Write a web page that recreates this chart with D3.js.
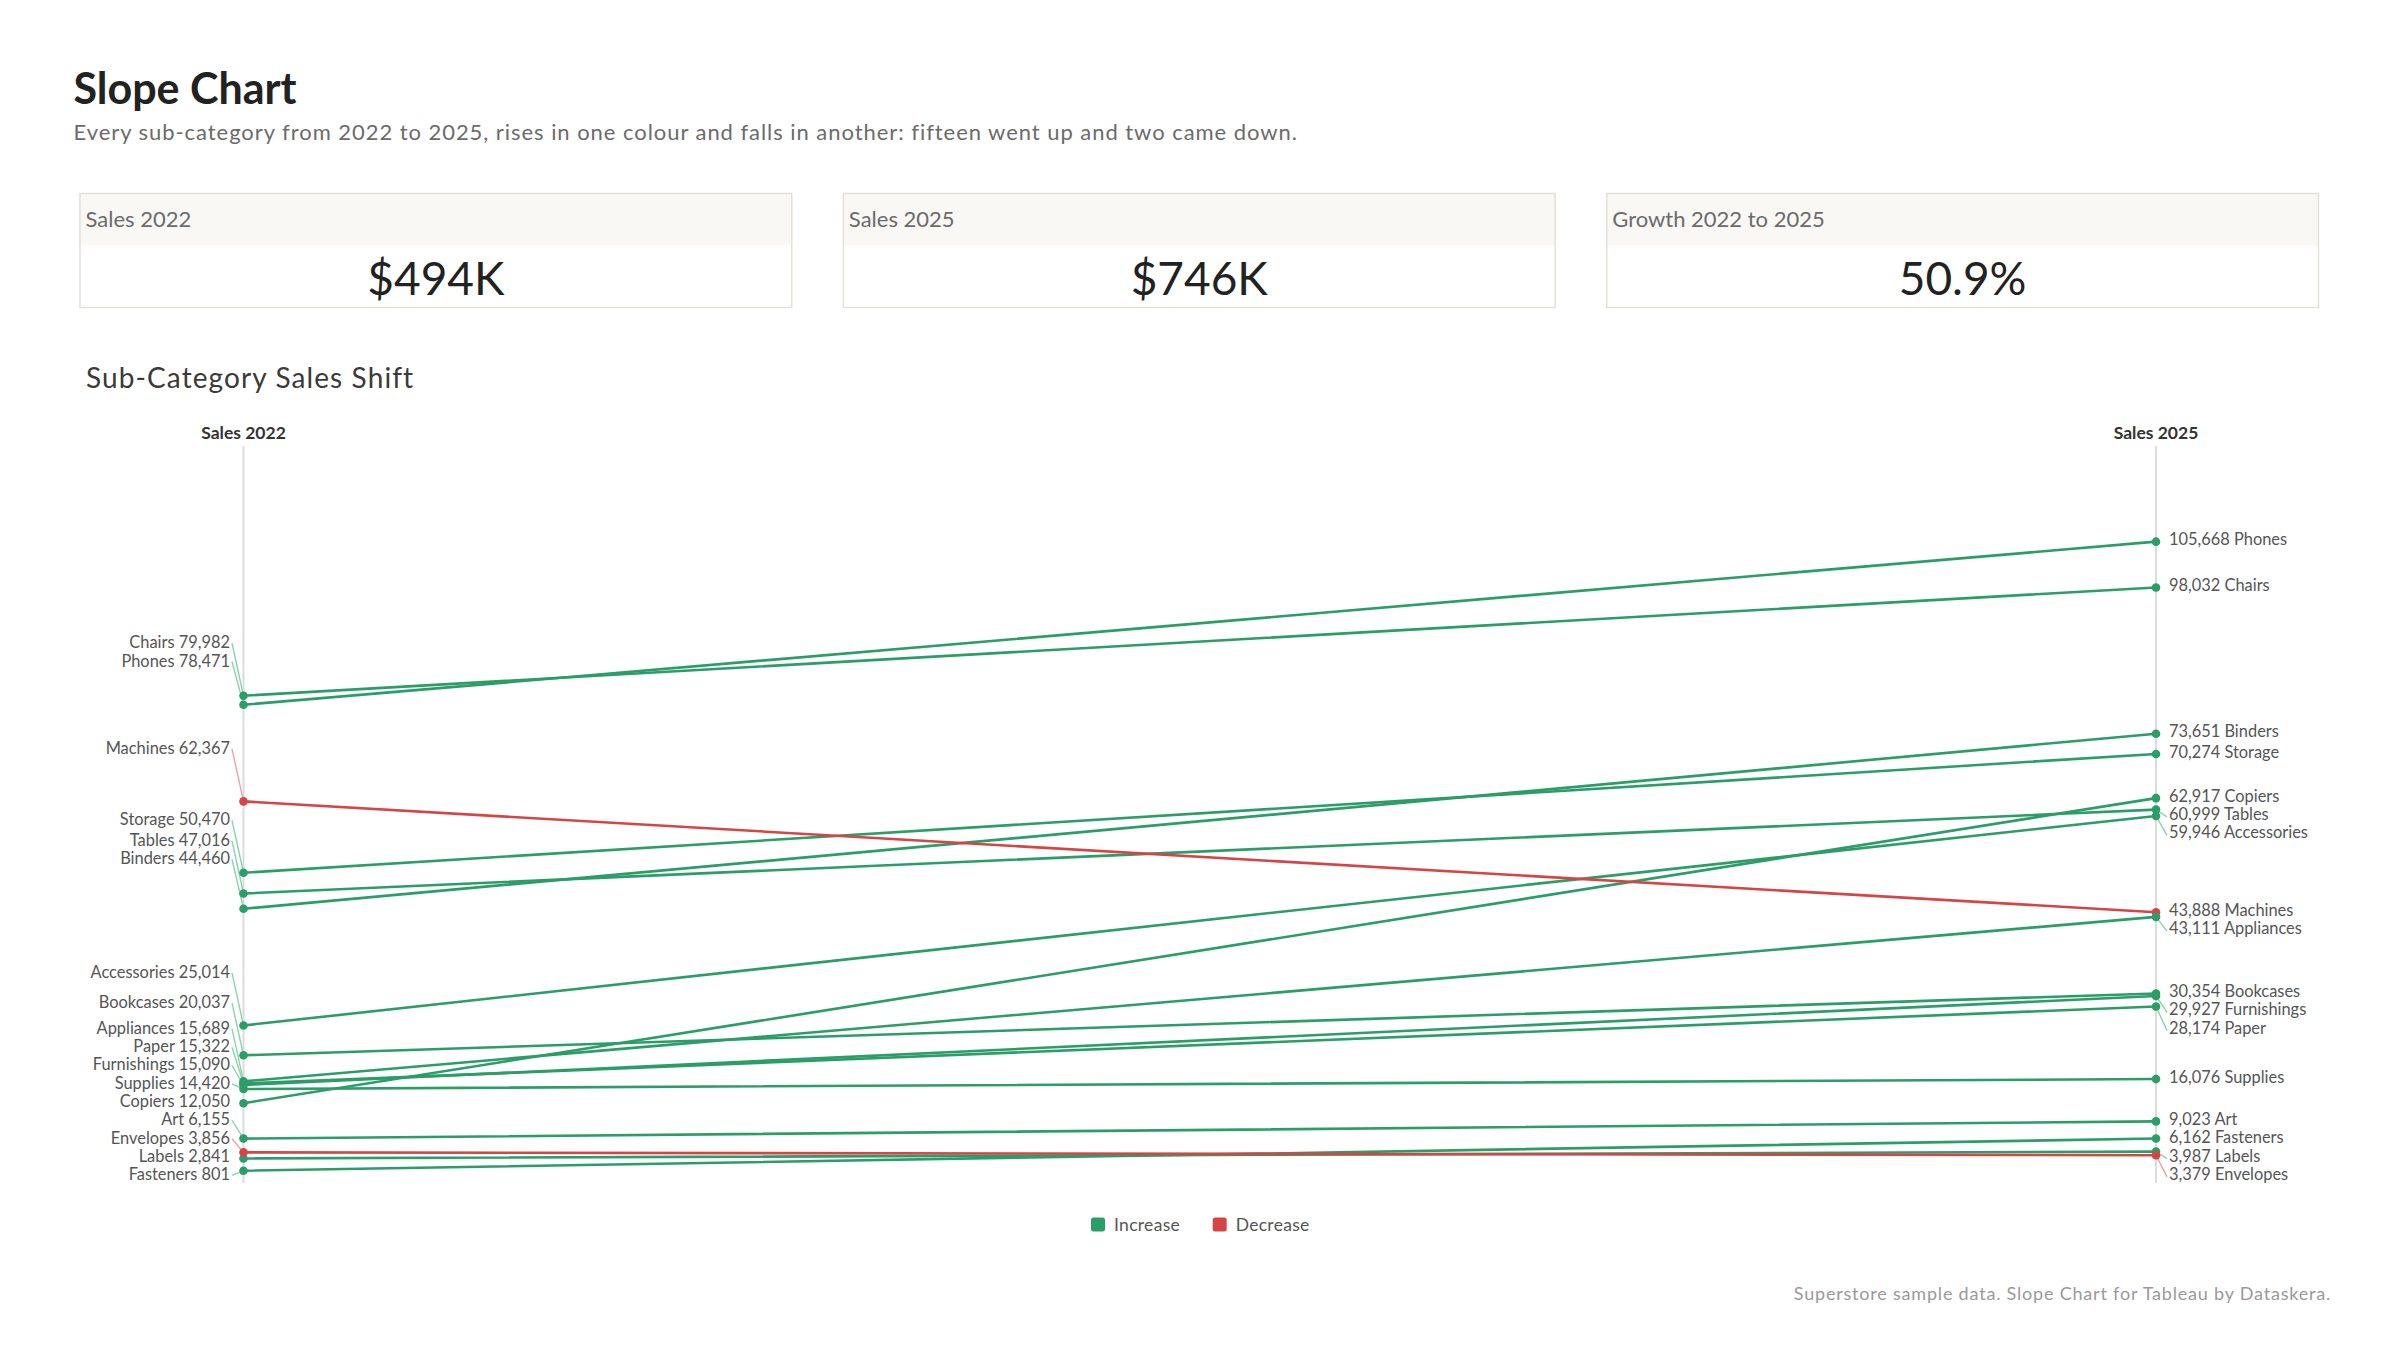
<!DOCTYPE html>
<html>
<head>
<meta charset="utf-8">
<script src="https://cdn.jsdelivr.net/npm/d3@7"></script>
<style>
  html, body { margin: 0; padding: 0; background: #ffffff; }
  svg { display: block; font-family: Lato, "Open Sans", sans-serif; }
</style>
</head>
<body>
<svg id="chart" width="2400" height="1350"></svg>
<script>
// ---------------- DATA ----------------
const subCategories = ["Phones","Chairs","Binders","Storage","Copiers","Tables","Accessories","Machines","Appliances","Bookcases","Furnishings","Paper","Supplies","Art","Fasteners","Labels","Envelopes"];
const sales2022 = [78471, 79982, 44460, 50470, 12050, 47016, 25014, 62367, 15689, 20037, 15090, 15322, 14420, 6155, 801, 2841, 3856];
const sales2025 = [105668, 98032, 73651, 70274, 62917, 60999, 59946, 43888, 43111, 30354, 29927, 28174, 16076, 9023, 6162, 3987, 3379];
const years = ["Sales 2022", "Sales 2025"];
const kpiLabels = ["Sales 2022", "Sales 2025", "Growth 2022 to 2025"];
const legendLabels = ["Increase", "Decrease"];

const title = "Slope Chart";
const subtitle = "Every sub-category from 2022 to 2025, rises in one colour and falls in another: fifteen went up and two came down.";
const sectionTitle = "Sub-Category Sales Shift";
const footer = "Superstore sample data. Slope Chart for Tableau by Dataskera.";

// ---------------- SETUP ----------------
const GREEN = "#2a9d68", RED = "#d64545";
const GREEN_LT = "#8dd2ae", RED_LT = "#eea1a1";
const svg = d3.select("#chart");
const rows = subCategories.map((name, i) => ({ name, v0: sales2022[i], v1: sales2025[i], up: sales2025[i] >= sales2022[i] }));

// Titles
svg.append("text").attr("x", 73.5).attr("y", 104).attr("font-size", 43).attr("font-weight", 700).attr("fill", "#222").text(title);
svg.append("text").attr("x", 73.5).attr("y", 140).attr("font-size", 22).attr("letter-spacing", 0.95).attr("fill", "#6b6b6b").text(subtitle);

// KPI cards
const total0 = d3.sum(sales2022), total1 = d3.sum(sales2025);
const kpiValues = ["$" + Math.round(total0 / 1000) + "K", "$" + Math.round(total1 / 1000) + "K", d3.format(".1%")(total1 / total0 - 1)];
const cardX = d3.scaleBand().domain(kpiLabels).range([79.5, 2319]).paddingInner(0.0663);
kpiLabels.forEach((lab, i) => {
  const g = svg.append("g").attr("transform", `translate(${cardX(lab)},193)`);
  const w = cardX.bandwidth();
  g.append("rect").attr("width", w).attr("height", 52.5).attr("fill", "#f9f8f5");
  g.append("rect").attr("x", 0.5).attr("y", 0.5).attr("width", w - 1).attr("height", 114).attr("fill", "none").attr("stroke", "#e4e1d8").attr("stroke-width", 1.5);
  g.append("text").attr("x", 6).attr("y", 33.7).attr("font-size", 22).attr("fill", "#6b6b6b").text(lab);
  g.append("text").attr("x", w / 2).attr("y", 102).attr("text-anchor", "middle").attr("font-size", 46).attr("fill", "#222").text(kpiValues[i]);
});

// Section title
svg.append("text").attr("x", 86).attr("y", 388.3).attr("font-size", 28).attr("letter-spacing", 1.1).attr("fill", "#3a3a3a").text(sectionTitle);

// ---------------- SCALES ----------------
const x = d3.scalePoint().domain(years).range([243.5, 2156]);
const y = d3.scaleLinear().domain([0, 120000]).range([1175.5, 455.7]);
const color = d => d.up ? GREEN : RED;
const colorLt = d => d.up ? GREEN_LT : RED_LT;
const fmt = d3.format(",");

// Axis headers and lines
years.forEach(yr => {
  svg.append("text").attr("x", x(yr)).attr("y", 439.3).attr("text-anchor", "middle").attr("font-size", 17.5).attr("font-weight", 700).attr("fill", "#333").text(yr);
  svg.append("line").attr("x1", x(yr)).attr("x2", x(yr)).attr("y1", 446).attr("y2", 1183).attr("stroke", "#dcdcdc").attr("stroke-width", 2);
});

// Label placement (collision resolution, pushing downward)
function place(key, offset, gap) {
  const sorted = rows.slice().sort((a, b) => b[key] - a[key]);
  let prev = -Infinity;
  sorted.forEach(d => {
    const want = y(d[key]) + offset;
    const pos = Math.max(want, prev + gap);
    d[key + "L"] = pos;
    prev = pos;
  });
}
place("v0", -53.5, 18.3);
place("v1", -2.4, 18.3);

// Slope lines
svg.append("g").selectAll("line").data(rows.slice().sort((a, b) => a.up - b.up).reverse()).join("line")
  .attr("x1", x(years[0])).attr("y1", d => y(d.v0))
  .attr("x2", x(years[1])).attr("y2", d => y(d.v1))
  .attr("stroke", color).attr("stroke-width", 2.6).attr("stroke-linecap", "round");

// Leader lines
const lead = svg.append("g");
rows.forEach(d => {
  if (Math.abs(d.v0L + 1 - y(d.v0)) > 2.5)
    lead.append("line").attr("x1", 232).attr("y1", d.v0L + 1).attr("x2", x(years[0])).attr("y2", y(d.v0)).attr("stroke", colorLt(d)).attr("stroke-width", 1.4);
  if (Math.abs(d.v1L + 2.4 - y(d.v1)) > 2.5)
    lead.append("line").attr("x1", 2167).attr("y1", d.v1L + 3).attr("x2", x(years[1])).attr("y2", y(d.v1)).attr("stroke", colorLt(d)).attr("stroke-width", 1.4);
});

// Dots
const dots = svg.append("g");
dots.selectAll("circle.a").data(rows).join("circle").attr("class", "a").attr("cx", x(years[0])).attr("cy", d => y(d.v0)).attr("r", 4.3).attr("fill", color);
dots.selectAll("circle.b").data(rows).join("circle").attr("class", "b").attr("cx", x(years[1])).attr("cy", d => y(d.v1)).attr("r", 4.3).attr("fill", color);

// Labels
const labs = svg.append("g").attr("font-size", 16.4).attr("fill", "#555");
labs.selectAll("text.l").data(rows).join("text").attr("class", "l")
  .attr("x", 230).attr("y", d => d.v0L + 6).attr("text-anchor", "end")
  .text(d => d.name + " " + fmt(d.v0));
labs.selectAll("text.r").data(rows).join("text").attr("class", "r")
  .attr("x", 2169).attr("y", d => d.v1L + 6)
  .text(d => fmt(d.v1) + " " + d.name);

// Legend
const legX = [1091, 1212.7];
legendLabels.forEach((lab, i) => {
  svg.append("rect").attr("x", legX[i]).attr("y", 1217.5).attr("width", 14).attr("height", 14).attr("rx", 2.5).attr("fill", i === 0 ? GREEN : RED);
  svg.append("text").attr("x", legX[i] + 23).attr("y", 1230.5).attr("font-size", 17.5).attr("letter-spacing", 0.3).attr("fill", "#555").text(lab);
});

// Footer
svg.append("text").attr("x", 2331).attr("y", 1300).attr("text-anchor", "end").attr("font-size", 18).attr("letter-spacing", 0.8).attr("fill", "#9a9a9a").text(footer);
</script>
</body>
</html>
